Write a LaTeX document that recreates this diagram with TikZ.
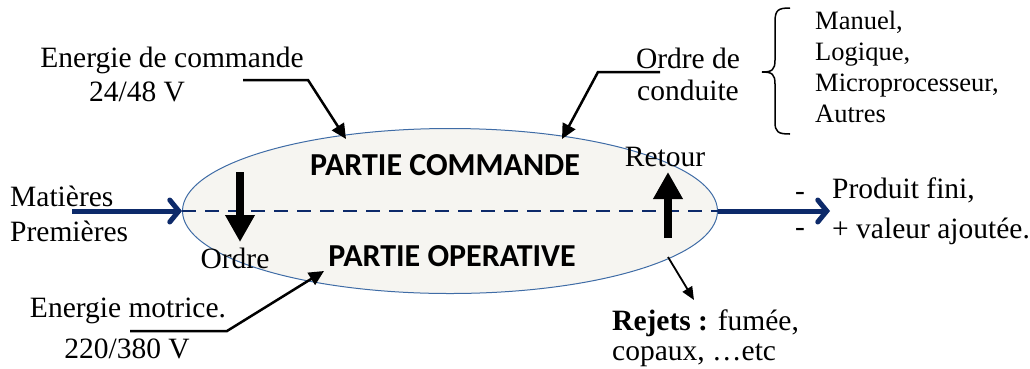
\documentclass[tikz,border=0pt]{standalone}
\usepackage{fontspec}
\setmainfont{Liberation Serif}
\newfontfamily\calibri{Carlito}
\usetikzlibrary{arrows.meta,shapes.geometric}
\definecolor{navy}{HTML}{0D2A6A}
\definecolor{bord}{HTML}{3F6CA6}
\definecolor{fond}{HTML}{F6F5F1}

\begin{document}
\begin{tikzpicture}[x=1pt,y=-1pt]
      \tikzstyle{txt}=[inner sep=0pt,font=\fontsize{29.5}{33}\selectfont]
      \tikzstyle{liste}=[inner sep=0pt,font=\fontsize{26.5}{31}\selectfont,align=left]
      \tikzstyle{partie}=[inner sep=0pt,font=\calibri\bfseries\fontsize{32}{34}\selectfont]
      \tikzstyle{lien}=[line width=2.5pt,-{Triangle[length=15pt,width=14pt]}]
      \tikzstyle{fin}=[line width=1.8pt,-{Triangle[length=13pt,width=11pt]}]
      \tikzstyle{flux}=[navy,line width=5pt,-{Straight Barb[length=9pt,width=22pt,line cap=round,line width=5pt]}]
      \tikzstyle{gros}=[line width=8pt,-{Triangle[length=27pt,width=28pt]}]
      \useasboundingbox (0,0) rectangle (1030,368);
      % le systeme
      \node[ellipse,draw=bord,line width=1pt,fill=fond,minimum width=535,minimum height=165,inner sep=0pt] (sys) at (450,211) {};
      \draw[navy,line width=1.8pt,dash pattern=on 14pt off 9pt] (sys.west) -- (sys.east);
      \node[partie] (pc) at (445,165) {PARTIE COMMANDE};
      \node[partie] (po) at (452,256) {PARTIE OPERATIVE};
      % ordre et retour
      \coordinate (o1) at (240,172);
      \coordinate (o2) at (240,242);
      \draw[gros] (o1)--(o2);
      \node[txt] (ordre) at (235,258) {Ordre};
      \coordinate (r1) at (668,238);
      \coordinate (r2) at (668,172);
      \draw[gros] (r1)--(r2);
      \node[txt] (retour) at (665,157) {Retour};
      % entree et sortie
      \node[txt,anchor=west] (mat) at (10,196) {Matières};
      \node[txt,anchor=west] (prem) at (10,231) {Premières};
      \coordinate (e1) at (72,211);
      \draw[flux] (e1)--(sys.west);
      \coordinate (s1) at (830,211);
      \draw[flux] (sys.east)--(s1);
      \node[txt] (t1) at (800,196) {-};
      \node[txt] (t2) at (800,232) {-};
      \node[txt,anchor=west] (prod) at (832,190) {Produit fini,};
      \node[txt,anchor=west] (val) at (832,231) {+ valeur ajoutée.};
      % energie de commande
      \node[txt] (ec) at (172,60) {Energie de commande};
      \node[txt] (ev) at (137,92) {24/48 V};
      \coordinate (c1) at (243,80);
      \coordinate (c2) at (308,80);
      \coordinate (c3) at (346,139);
      \draw[lien] (c1)--(c2)--(c3);
      % ordre de conduite
      \node[txt] (od) at (688,58) {Ordre de};
      \node[txt] (cd) at (688,90) {conduite};
      \coordinate (d1) at (660,72);
      \coordinate (d2) at (598,72);
      \coordinate (d3) at (562,139);
      \draw[lien] (d1)--(d2)--(d3);
      \coordinate (b1) at (790,8);
      \coordinate (b2) at (790,134);
      \draw[line width=1.5pt] (b1) .. controls (778,8) and (775,10) .. (775,22) -- (775,60) .. controls (775,70) and (772,72) .. (762,72) .. controls (772,72) and (775,74) .. (775,84) -- (775,122) .. controls (775,132) and (778,134) .. (b2);
      \node[liste,anchor=north west] (mode) at (815,11) {Manuel,\\Logique,\\Microprocesseur,\\Autres};
      % energie motrice
      \node[txt] (em) at (128,311) {Energie motrice.};
      \node[txt] (mv) at (127,349) {220/380 V};
      \coordinate (m1) at (130,331);
      \coordinate (m2) at (227,331);
      \coordinate (m3) at (324,271);
      \draw[lien] (m1)--(m2)--(m3);
      % rejets
      \coordinate (j1) at (668,257);
      \coordinate (j2) at (694,300);
      \draw[fin] (j1)--(j2);
      \node[txt,anchor=west] (rej) at (612,323) {\textbf{Rejets :} fumée,};
      \node[txt,anchor=west] (cop) at (612,355) {copaux, …etc};
    \end{tikzpicture}
\end{document}
